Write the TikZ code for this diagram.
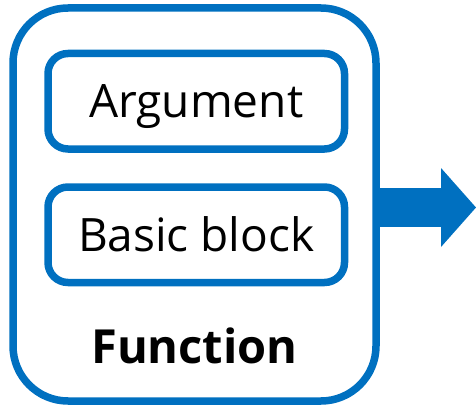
\documentclass[tikz,border=0pt]{standalone}
\usepackage{fontspec}
\setmainfont{Open Sans}
\usetikzlibrary{arrows.meta,positioning}
\definecolor{fnblue}{HTML}{0070C0}
\tikzset{outerbox/.style={draw=fnblue,line width=7.5pt,rounded corners=55pt,minimum width=363pt,minimum height=393pt,outer sep=0pt,inner sep=0pt},innerbox/.style={draw=fnblue,line width=7.5pt,rounded corners=20pt,minimum width=296.5pt,minimum height=95.5pt,outer sep=0pt,inner sep=0pt,text height=33pt,text depth=0pt,font=\fontsize{46}{50}\selectfont},fnlabel/.style={font=\fontsize{47}{52}\selectfont\bfseries,inner sep=0pt},flowarrow/.style={draw=fnblue,line width=39pt,-{Triangle[length=35pt,width=79pt,line width=0pt]}}}

\begin{document}
\begin{tikzpicture}[x=1pt,y=1pt]
\useasboundingbox (0,0) rectangle (476,405);
\node[outerbox] (fn) at (194.5,200.5) {};
\node[innerbox,below=45.5pt of fn.north,xshift=1.75pt] (arg) {Argument};
\node[innerbox,below=38pt of arg] (bb) {Basic block};
\node[fnlabel,anchor=base] (fnname) at ([yshift=38pt]fn.south) {Function};
\coordinate (tip) at ([xshift=100pt,yshift=-3pt]fn.east);
\draw[flowarrow] ([yshift=-3pt]fn.east) -- (tip);
\end{tikzpicture}
\end{document}
